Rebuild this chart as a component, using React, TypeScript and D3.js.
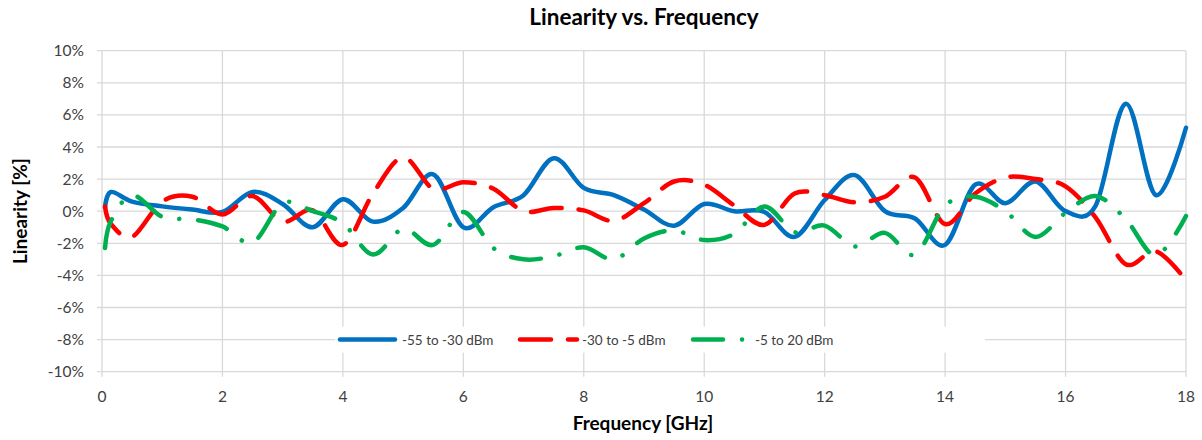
import { useMemo } from "react";
import * as d3 from "d3";

// frequency points [GHz]
const FREQ = [
  0.05, 0.15, 0.5, 1, 1.5, 2, 2.5, 3, 3.5, 4, 4.5, 5, 5.5, 6, 6.5, 7, 7.5, 8, 8.5, 9,
  9.5, 10, 10.5, 11, 11.5, 12, 12.5, 13, 13.5, 14, 14.5, 15, 15.5, 16, 16.5, 17, 17.5, 18,
];

// linearity [%]
const LOW_PWR = [
  0.25, 1.2, 0.6, 0.3, 0.1, -0.05, 1.2, 0.45, -1.0, 0.75, -0.65, 0.2, 2.3, -1.0, 0.25, 1.0, 3.3, 1.45, 1.0, 0.1,
  -0.9, 0.45, 0.0, -0.05, -1.6, 0.7, 2.25, 0.0, -0.45, -2.1, 1.65, 0.5, 1.85, 0.0, 0.35, 6.7, 1.0, 5.2,
];
const MID_PWR = [
  0.3, -0.8, -1.6, 0.6, 0.9, -0.2, 0.95, -0.65, 0.05, -2.1, 1.1, 3.35, 1.4, 1.8, 1.4, 0.0, 0.2, 0.05, -0.6, 0.5,
  1.85, 1.65, 0.35, -0.85, 1.1, 1.0, 0.55, 0.9, 2.1, -0.8, 1.1, 2.1, 2.0, 1.55, -0.4, -3.3, -2.5, -4.3,
];
const HIGH_PWR = [
  -2.3, -0.6, 1.0, -0.35, -0.5, -0.95, -1.95, 0.5, 0.0, -0.75, -2.7, -1.1, -2.1, -0.05, -2.3, -3.0, -2.8, -2.25, -3.0, -1.7,
  -1.2, -1.8, -1.4, 0.3, -1.3, -0.9, -2.2, -1.35, -2.7, 0.35, 0.9, 0.0, -1.6, -0.1, 0.95, -0.5, -2.75, -0.3,
];

const SERIES = [
  { name: "-55 to -30 dBm", values: LOW_PWR, color: "#0070c0", dash: "none" },
  { name: "-30 to -5 dBm", values: MID_PWR, color: "#ff0000", dash: "31 17" },
  { name: "-5 to 20 dBm", values: HIGH_PWR, color: "#00b050", dash: "30 19 0.1 19" },
];

const X_TICKS = [0, 2, 4, 6, 8, 10, 12, 14, 16, 18];
const Y_TICKS = [-10, -8, -6, -4, -2, 0, 2, 4, 6, 8, 10];

const W = 1202;
const H = 440;
const PLOT = { left: 102, right: 1186, top: 50.7, bottom: 371.7 };
const FONT = "Lato, 'Open Sans', sans-serif";
const GRID = "#d9d9d9";
const TEXT = "#404040";

export default function App() {
  const x = d3.scaleLinear().domain([0, 18]).range([PLOT.left, PLOT.right]);
  const y = d3.scaleLinear().domain([-10, 10]).range([PLOT.bottom, PLOT.top]);

  const line = useMemo(
    () =>
      d3
        .line<[number, number]>()
        .x((d) => x(d[0]))
        .y((d) => y(d[1]))
        .curve(d3.curveCatmullRom.alpha(0)),
    []
  );

  // legend placement
  const legendY = y(-8);
  const legendItems = [
    { x0: 340, x1: 395, tx: 402 },
    { x0: 520, x1: 577, tx: 582 },
    { x0: 693, x1: 748, tx: 755 },
  ];

  return (
    <svg
      width={W}
      height={H}
      style={{ position: "absolute", left: 0, top: 0, background: "#fff" }}
      fontFamily={FONT}
    >
      <rect width={W} height={H} fill="#fff" />
      <text x={644} y={25} textAnchor="middle" fontSize={22.5} fontWeight={700} fill="#000">
        Linearity vs. Frequency
      </text>

      {/* gridlines */}
      {Y_TICKS.map((t) => (
        <g key={"y" + t}>
          <line x1={PLOT.left - 5} x2={PLOT.right} y1={y(t)} y2={y(t)} stroke={GRID} strokeWidth={1.3} />
          <text x={84} y={y(t) + 5.5} textAnchor="end" fontSize={15.5} fill={TEXT}>
            {t}%
          </text>
        </g>
      ))}
      {X_TICKS.map((t) => (
        <g key={"x" + t}>
          <line x1={x(t)} x2={x(t)} y1={PLOT.top} y2={PLOT.bottom + 5} stroke={GRID} strokeWidth={1.3} />
          <text x={x(t)} y={402} textAnchor="middle" fontSize={15.5} fill={TEXT}>
            {t}
          </text>
        </g>
      ))}

      <text x={643} y={430} textAnchor="middle" fontSize={19} fontWeight={700} fill="#000">
        Frequency [GHz]
      </text>
      <text
        transform={`translate(27,${(PLOT.top + PLOT.bottom) / 2}) rotate(-90)`}
        textAnchor="middle"
        fontSize={19}
        fontWeight={700}
        fill="#000"
      >
        Linearity [%]
      </text>

      {/* series */}
      {SERIES.map((s) => (
        <path
          key={s.name}
          d={line(FREQ.map((f, i) => [f, s.values[i]] as [number, number])) ?? ""}
          fill="none"
          stroke={s.color}
          strokeWidth={4.5}
          strokeLinecap="round"
          strokeLinejoin="round"
          strokeDasharray={s.dash}
        />
      ))}

      {/* legend */}
      <rect x={335} y={legendY - 13} width={650} height={26} fill="#fff" />
      {SERIES.map((s, i) => {
        const it = legendItems[i];
        return (
          <g key={"lg" + i}>
            <line
              x1={it.x0}
              x2={it.x1}
              y1={legendY}
              y2={legendY}
              stroke={s.color}
              strokeWidth={4.5}
              strokeLinecap="round"
              strokeDasharray={s.dash}
            />
            <text x={it.tx} y={legendY + 5} fontSize={13.5} fill={TEXT}>
              {s.name}
            </text>
          </g>
        );
      })}
    </svg>
  );
}
